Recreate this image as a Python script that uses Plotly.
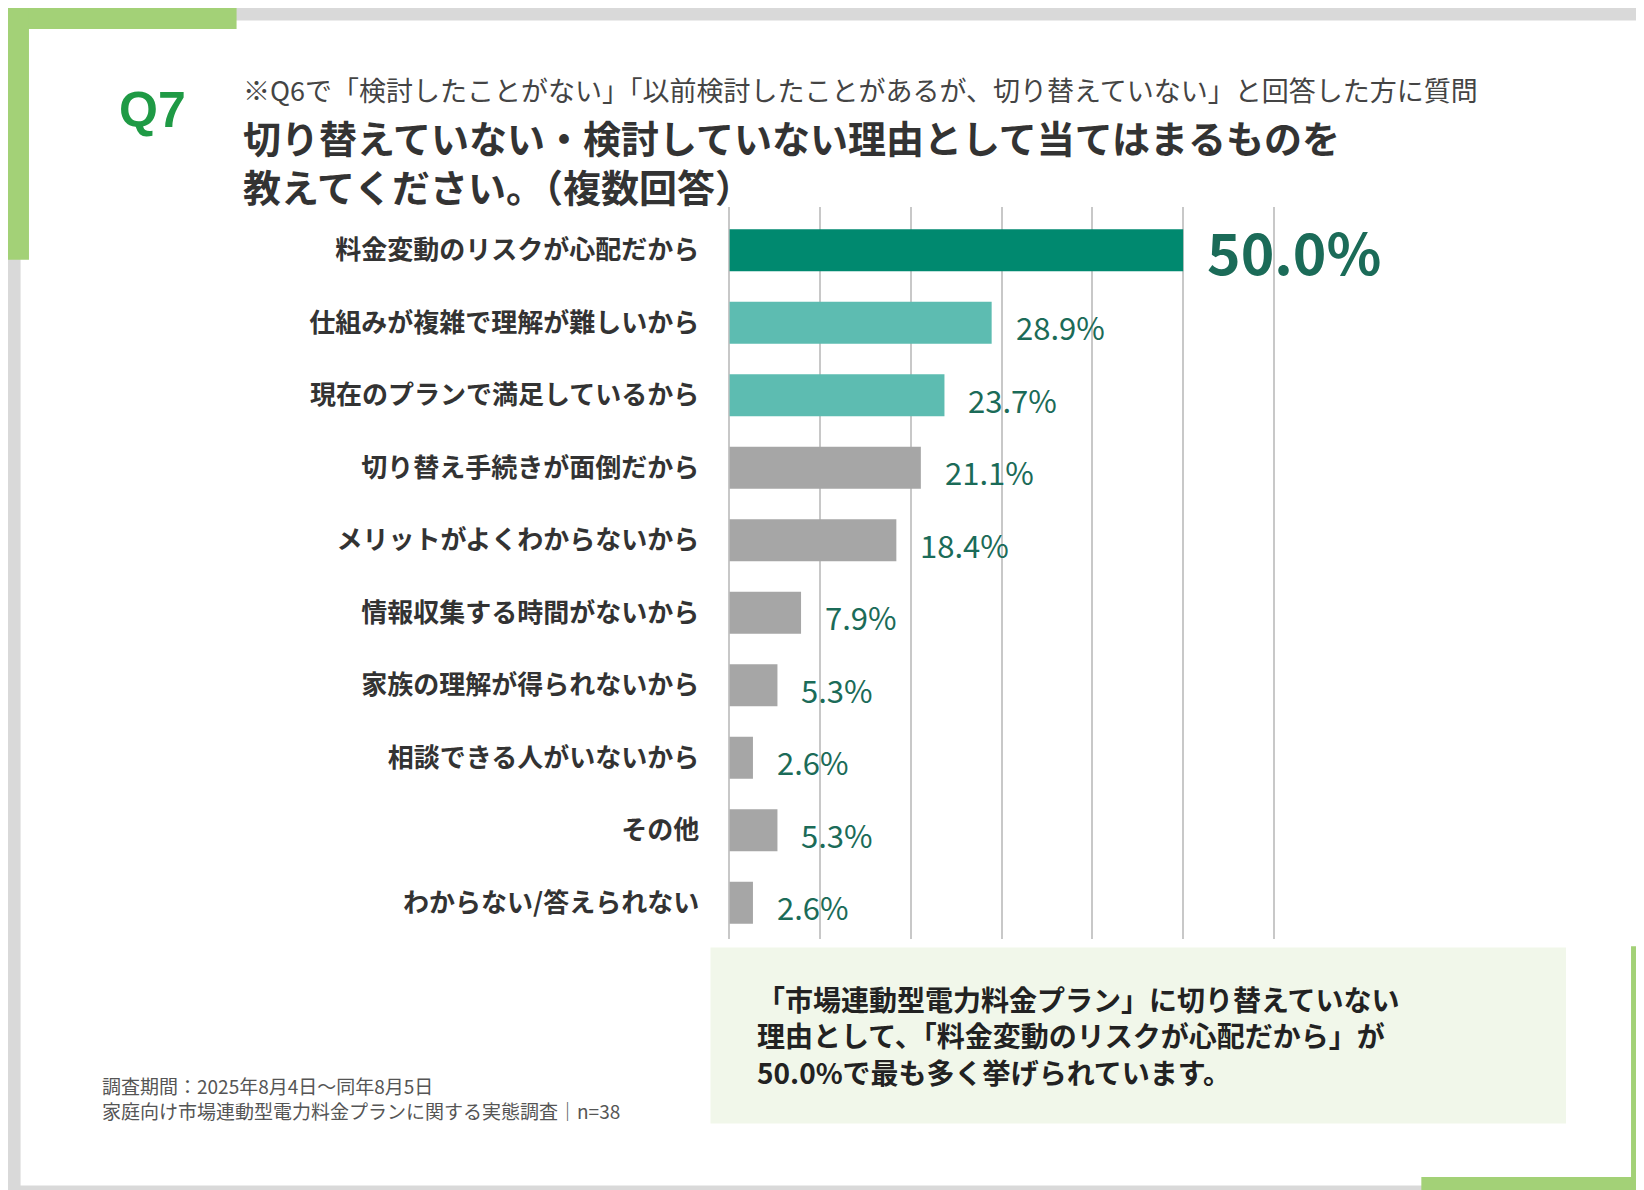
import plotly.graph_objects as go

reasons = ["料金変動のリスクが心配だから", "仕組みが複雑で理解が難しいから", "現在のプランで満足しているから",
           "切り替え手続きが面倒だから", "メリットがよくわからないから", "情報収集する時間がないから",
           "家族の理解が得られないから", "相談できる人がいないから", "その他", "わからない/答えられない"]
values = [50.0, 28.9, 23.7, 21.1, 18.4, 7.9, 5.3, 2.6, 5.3, 2.6]
bar_colors = ["#00896f", "#5dbcb1", "#5dbcb1"] + ["#a6a6a6"] * 7

W, H = 1568, 1135  # reference pixel frame
FONT = "Noto Sans CJK JP"

def px(x):
    return x / W

def py(y):
    return 1 - y / H

fig = go.Figure()
fig.add_trace(go.Bar(
    y=reasons, x=values, orientation="h", width=0.58,
    marker=dict(color=bar_colors, line=dict(width=0)),
    hoverinfo="skip",
))

annotations = []
for i, (r, v) in enumerate(zip(reasons, values)):
    big = i == 0
    annotations.append(dict(
        x=v, y=r, xref="x", yref="y", xanchor="left", yanchor="middle", showarrow=False,
        text=f"<b>{v:.1f}%</b>" if big else f"{v:.1f}%", xshift=22,
        yshift=0 if big else -4,
        font=dict(family=FONT, size=57 if big else 31, color="#1b6b58"),
    ))

annotations += [
    dict(x=px(104), y=py(97), xref="paper", yref="paper", xanchor="left", yanchor="middle",
         showarrow=False, text="<b>Q7</b>", font=dict(family="Liberation Sans", size=50, color="#1f9a45")),
    dict(x=px(222), y=py(78), xref="paper", yref="paper", xanchor="left", yanchor="middle",
         showarrow=False, text="※Q6で「検討したことがない」「以前検討したことがあるが、切り替えていない」と回答した方に質問",
         font=dict(family=FONT, size=27, color="#444444")),
    dict(x=px(222), y=py(146), xref="paper", yref="paper", xanchor="left", yanchor="middle",
         showarrow=False, align="left",
         text="<b>切り替えていない・検討していない理由として当てはまるものを<br>教えてください。（複数回答）</b>",
         font=dict(family=FONT, size=38, color="#333333")),
    dict(x=px(712), y=py(980), xref="paper", yref="paper", xanchor="left", yanchor="middle",
         showarrow=False, align="left",
         text="<b>「市場連動型電力料金プラン」に切り替えていない<br>理由として、「料金変動のリスクが心配だから」が<br>50.0%で最も多く挙げられています。</b>",
         font=dict(family=FONT, size=28, color="#222222")),
    dict(x=px(88), y=py(1040), xref="paper", yref="paper", xanchor="left", yanchor="middle",
         showarrow=False, align="left",
         text="調査期間：2025年8月4日～同年8月5日<br>家庭向け市場連動型電力料金プランに関する実態調査｜n=38",
         font=dict(family=FONT, size=19, color="#555555")),
]

shapes = [
    dict(type="rect", xref="paper", yref="paper", x0=px(12), x1=px(1556), y0=py(1123), y1=py(12),
         fillcolor="white", line=dict(width=0), layer="below"),
    dict(type="rect", xref="paper", yref="paper", x0=0, x1=px(218), y0=py(20), y1=1,
         fillcolor="#a3d177", line=dict(width=0), layer="below"),
    dict(type="rect", xref="paper", yref="paper", x0=0, x1=px(20), y0=py(240), y1=1,
         fillcolor="#a3d177", line=dict(width=0), layer="below"),
    dict(type="rect", xref="paper", yref="paper", x0=px(1548), x1=1, y0=0, y1=py(895),
         fillcolor="#a3d177", line=dict(width=0), layer="below"),
    dict(type="rect", xref="paper", yref="paper", x0=px(1348), x1=1, y0=0, y1=py(1115),
         fillcolor="#a3d177", line=dict(width=0), layer="below"),
    dict(type="rect", xref="paper", yref="paper", x0=px(670), x1=px(1486), y0=py(1064), y1=py(896),
         fillcolor="#f1f7ea", line=dict(width=0), layer="below"),
]

fig.update_layout(
    width=1644, height=1190, margin=dict(l=0, r=0, t=0, b=0),
    paper_bgcolor="#d9d9d9", plot_bgcolor="rgba(0,0,0,0)", showlegend=False,
    font=dict(family=FONT),
    xaxis=dict(domain=[px(688), px(1210)], range=[0, 60.3], dtick=10, showticklabels=False,
               showgrid=True, gridcolor="#c8c8c8", gridwidth=2, zeroline=True,
               zerolinecolor="#c8c8c8", zerolinewidth=2, fixedrange=True),
    yaxis=dict(domain=[py(888), py(190)], autorange="reversed", ticks="outside",
               ticklen=24, tickcolor="rgba(0,0,0,0)",
               tickfont=dict(family=FONT, size=26, color="#333333"), showgrid=False),
    annotations=annotations, shapes=shapes,
)
fig.update_yaxes(tickvals=reasons, ticktext=[f"<b>{r}</b>" for r in reasons])

fig.write_html("out.html")
